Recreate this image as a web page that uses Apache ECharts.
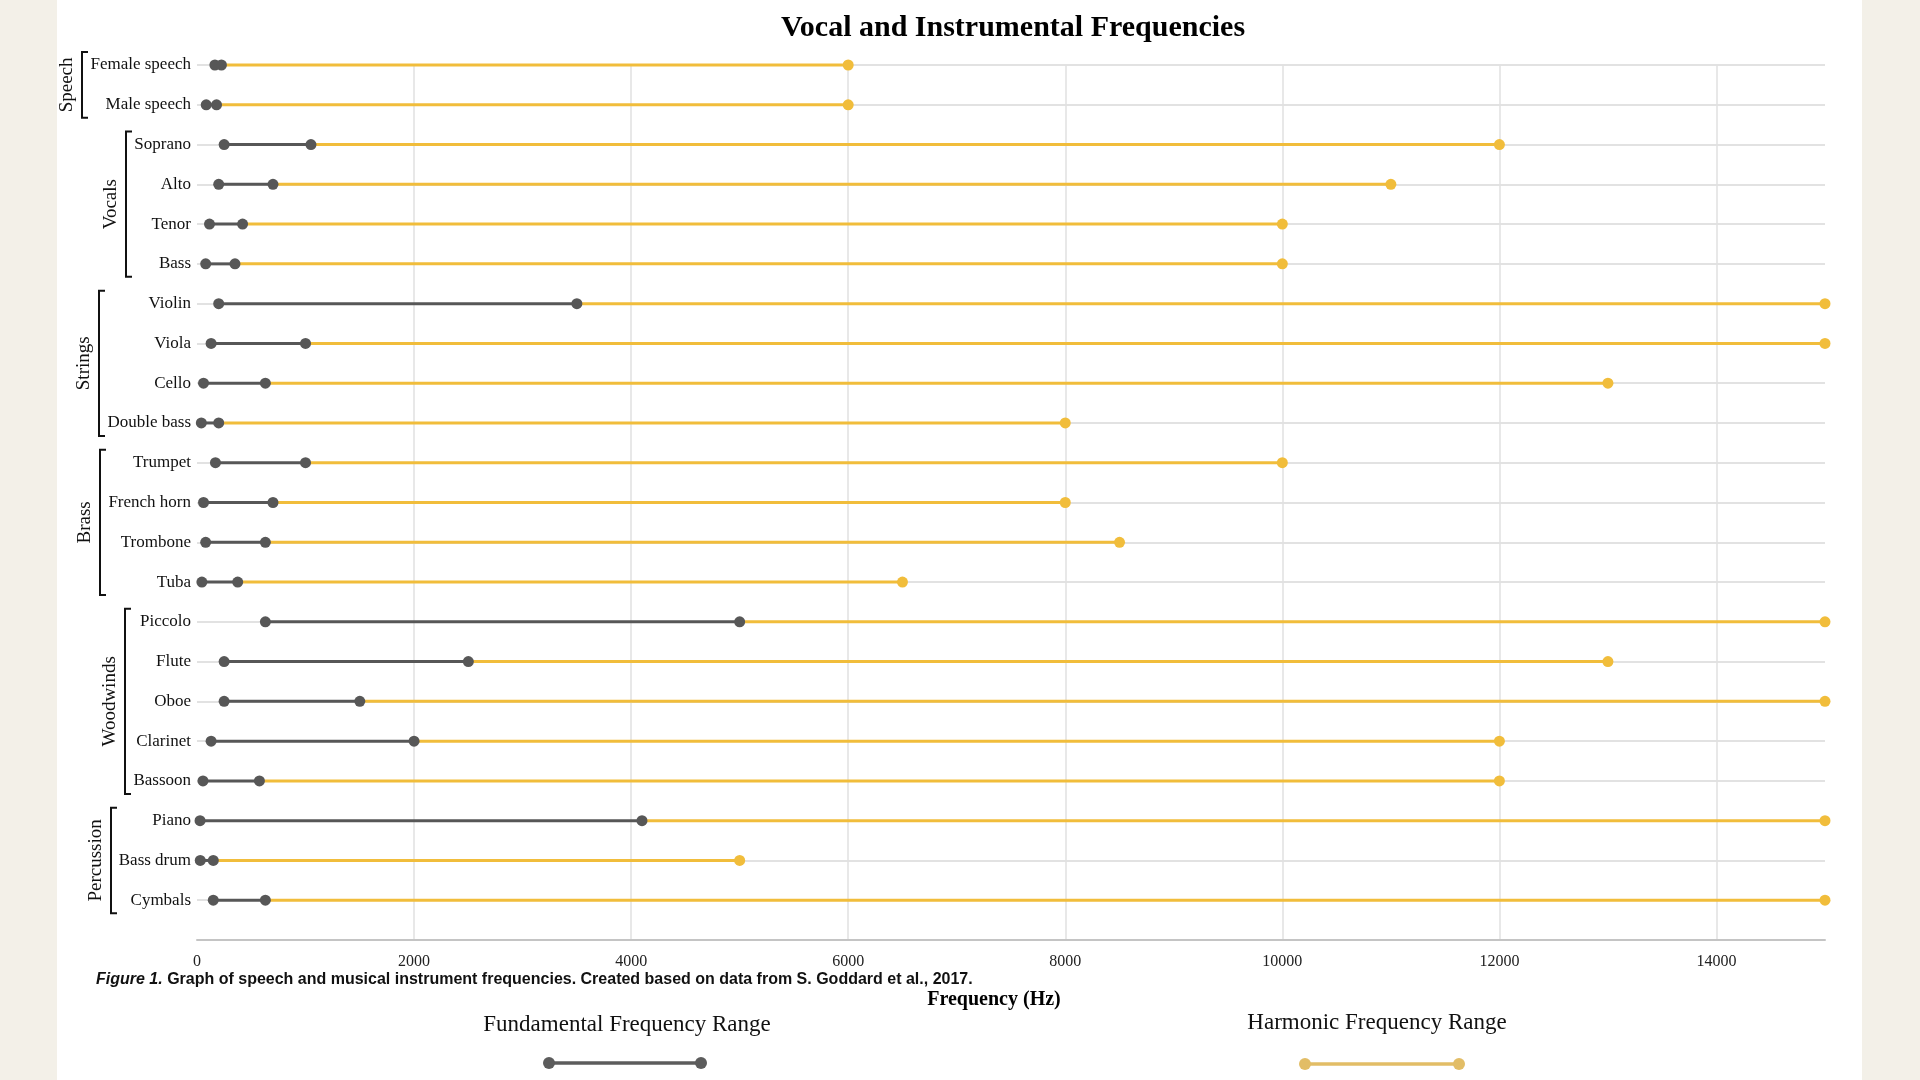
<!DOCTYPE html>
<html><head><meta charset="utf-8">
<script src="https://cdn.jsdelivr.net/npm/echarts@6/dist/echarts.min.js"></script>
<style>
html,body{margin:0;padding:0;width:1920px;height:1080px;background:#f3f0e8;overflow:hidden}
#paper{position:absolute;left:57px;top:0;width:1805px;height:1080px;background:#ffffff}
#chart{position:absolute;left:0;top:0;width:1920px;height:1080px}
</style></head><body>
<div id="paper"></div><div id="chart"></div>
<script>
const categories = ['Female speech','Male speech','Soprano','Alto','Tenor','Bass','Violin','Viola','Cello','Double bass','Trumpet','French horn','Trombone','Tuba','Piccolo','Flute','Oboe','Clarinet','Bassoon','Piano','Bass drum','Cymbals'];
const groupNames = ['Speech','Vocals','Strings','Brass','Woodwinds','Percussion'];
const groupSizes = [2,4,4,4,5,3];
const fundamentalLow  = [165, 85, 250, 200, 115, 80, 200, 130, 60, 40, 170, 60, 80, 45, 630, 250, 250, 130, 55, 28, 30, 150];
const fundamentalHigh = [225, 180, 1050, 700, 420, 350, 3500, 1000, 630, 200, 1000, 700, 630, 375, 5000, 2500, 1500, 2000, 575, 4100, 150, 630];
const harmonicHigh    = [6000, 6000, 12000, 11000, 10000, 10000, 15000, 15000, 13000, 8000, 10000, 8000, 8500, 6500, 15000, 13000, 15000, 12000, 12000, 15000, 5000, 15000];
const xMin = 0, xMax = 15000, xStep = 2000;
const legendNames = ['Fundamental Frequency Range','Harmonic Frequency Range'];

const GRAY = '#575757', GOLD = '#f1bd3b';
const SERIF = '"Liberation Serif","Times New Roman",serif';
const SANS = '"Liberation Sans",Arial,sans-serif';

const yCats = categories.concat(['']);
const fundData = categories.map((c, i) => [fundamentalLow[i], fundamentalHigh[i], i]);
const harmData = categories.map((c, i) => [fundamentalHigh[i], harmonicHigh[i], i]);

function rangeRenderer(color, drawStart) {
  return function (params, api) {
    const y = api.value(2);
    const p0 = api.coord([api.value(0), y]);
    const p1 = api.coord([api.value(1), y]);
    const ch = [{type: 'line', shape: {x1: p0[0], y1: p0[1], x2: p1[0], y2: p1[1]}, style: {stroke: color, lineWidth: 3}}];
    if (drawStart) ch.push({type: 'circle', shape: {cx: p0[0], cy: p0[1], r: 5.5}, style: {fill: color}});
    ch.push({type: 'circle', shape: {cx: p1[0], cy: p1[1], r: 5.5}, style: {fill: color}});
    return {type: 'group', children: ch};
  };
}

const chart = echarts.init(document.getElementById('chart'), null, {renderer: 'canvas'});
chart.setOption({
  backgroundColor: 'transparent',
  animation: false,
  title: {text: 'Vocal and Instrumental Frequencies', left: 1008, top: 8, textAlign: 'center',
    textStyle: {fontFamily: SERIF, fontSize: 30, fontWeight: 'bold', color: '#000'}},
  grid: {left: 197, right: 95, top: 65, bottom: 140, containLabel: false},
  xAxis: {type: 'value', min: xMin, max: xMax, interval: xStep,
    name: 'Frequency (Hz)', nameLocation: 'middle', nameGap: 50,
    nameTextStyle: {fontFamily: SERIF, fontSize: 20, fontWeight: 'bold', color: '#000', padding: [0, 34, 0, 0]},
    axisLine: {show: true, lineStyle: {color: '#c4c4c4', width: 2}},
    axisTick: {show: false},
    axisLabel: {fontFamily: SERIF, fontSize: 16, color: '#222', margin: 14, showMaxLabel: false,
      formatter: v => String(v)},
    splitLine: {show: true, showMinLine: false, showMaxLine: false, lineStyle: {color: '#e0e0e0', width: 1.5}}},
  yAxis: {type: 'category', data: yCats, inverse: true, boundaryGap: false,
    axisLine: {show: false}, axisTick: {show: false},
    axisLabel: {interval: 0, fontFamily: SERIF, fontSize: 17, color: '#111', margin: 6},
    splitLine: {show: true, interval: 0, lineStyle: {color: '#e2e2e2', width: 2}}},
  series: [
    {type: 'custom', name: legendNames[1], data: harmData, encode: {x: [0, 1], y: 2}, renderItem: rangeRenderer(GOLD, false), z: 2},
    {type: 'custom', name: legendNames[0], data: fundData, encode: {x: [0, 1], y: 2}, renderItem: rangeRenderer(GRAY, true), z: 3}
  ]
});

// group brackets, positioned from the category axis
const ctx = document.createElement('canvas').getContext('2d');
ctx.font = '17px ' + SERIF;
const axisX = chart.convertToPixel({xAxisIndex: 0}, 0);
const graphics = [];
let start = 0;
groupNames.forEach((g, gi) => {
  const n = groupSizes[gi];
  let maxW = 0;
  for (let k = start; k < start + n; k++) maxW = Math.max(maxW, ctx.measureText(categories[k]).width);
  const yTop = chart.convertToPixel({yAxisIndex: 0}, categories[start]) - 13;
  const yBot = chart.convertToPixel({yAxisIndex: 0}, categories[start + n - 1]) + 13;
  const bx = Math.round(axisX - 6 - maxW - 8);
  graphics.push({type: 'polyline', shape: {points: [[bx + 6, yTop], [bx, yTop], [bx, yBot], [bx + 6, yBot]]},
    style: {stroke: '#111', lineWidth: 2, fill: null}});
  graphics.push({type: 'text', x: bx - 15, y: (yTop + yBot) / 2, rotation: Math.PI / 2,
    style: {text: g, fontFamily: SERIF, fontSize: 19, fill: '#111', align: 'center', verticalAlign: 'middle'}});
  start += n;
});
// caption
graphics.push({type: 'text', x: 96, y: 980, style: {
  text: '{i|Figure 1.} Graph of speech and musical instrument frequencies. Created based on data from S. Goddard et al., 2017.',
  fontFamily: SANS, fontSize: 16, fontWeight: 'bold', fill: '#111', verticalAlign: 'middle',
  rich: {i: {fontFamily: SANS, fontSize: 16, fontWeight: 'bold', fontStyle: 'italic', fill: '#111'}}}});
// legend
const legendDefs = [{name: legendNames[0], cx: 627, ty: 1025, x1: 549, x2: 701, ly: 1063, color: '#5c5c5c'},
                    {name: legendNames[1], cx: 1377, ty: 1023, x1: 1305, x2: 1459, ly: 1064, color: '#e2bd66'}];
legendDefs.forEach(d => {
  graphics.push({type: 'text', x: d.cx, y: d.ty, style: {text: d.name, fontFamily: SERIF, fontSize: 23, fill: '#111', align: 'center', verticalAlign: 'middle'}});
  graphics.push({type: 'line', shape: {x1: d.x1, y1: d.ly, x2: d.x2, y2: d.ly}, style: {stroke: d.color, lineWidth: 3.5}});
  graphics.push({type: 'circle', shape: {cx: d.x1, cy: d.ly, r: 6}, style: {fill: d.color}});
  graphics.push({type: 'circle', shape: {cx: d.x2, cy: d.ly, r: 6}, style: {fill: d.color}});
});
chart.setOption({graphic: graphics});
</script>
</body></html>
